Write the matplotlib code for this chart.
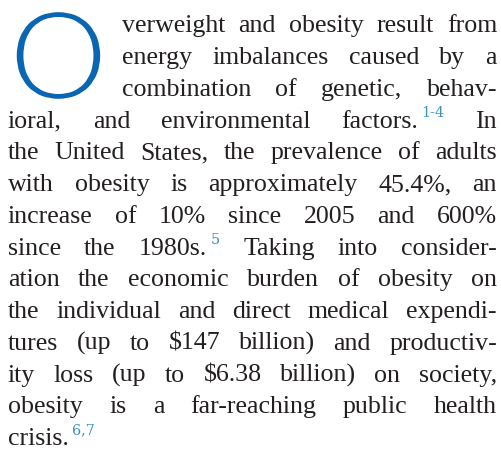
import matplotlib
matplotlib.use("Agg")
import matplotlib.pyplot as plt
import matplotlib.patheffects as pe

# ---- content ----
drop_cap = "O"
lines = [
    "verweight and obesity result from",
    "energy imbalances caused by a",
    "combination of genetic, behav-",
    "ioral, and environmental factors.^1-4 In",
    "the United States, the prevalence of adults",
    "with obesity is approximately 45.4%, an",
    "increase of 10% since 2005 and 600%",
    "since the 1980s.^5 Taking into consider-",
    "ation the economic burden of obesity on",
    "the individual and direct medical expendi-",
    "tures (up to $147 billion) and productiv-",
    "ity loss (up to $6.38 billion) on society,",
    "obesity is a far-reaching public health",
    "crisis.^6,7",
]
indented_lines = 3

# ---- style ----
W, H = 501, 449
TEXT_COLOR = "#231f20"
CAP_COLOR = "#0a66b2"
SUP_COLOR = "#3592c6"
FONT = "Liberation Serif"
SUP_FONT = "DejaVu Serif"
FS = 18.6
SUP_FS = 10.4
LEFT, RIGHT, INDENT_LEFT = 8, 497, 122
BASE0, LINE_H = 32.3, 31.75
SUP_RAISE = 10.5
SUP_GAP = 3.5

fig = plt.figure(figsize=(W / 100, H / 100), dpi=100)
ax = fig.add_axes([0, 0, 1, 1])
ax.set_xlim(0, W)
ax.set_ylim(H, 0)
ax.axis("off")
renderer = fig.canvas.get_renderer()


def width_of(s, fs, family=FONT):
    t = ax.text(0, 0, s, fontsize=fs, family=family, parse_math=False)
    w = t.get_window_extent(renderer).width
    t.remove()
    return w


def token_parts(tok):
    if "^" in tok:
        a, b = tok.split("^", 1)
        return a, b
    return tok, None


def token_width(tok):
    a, b = token_parts(tok)
    w = width_of(a, FS)
    if b:
        w += SUP_GAP + width_of(b, SUP_FS, SUP_FONT)
    return w


for i, line in enumerate(lines):
    y = BASE0 + i * LINE_H
    x0 = INDENT_LEFT if i < indented_lines else LEFT
    toks = line.split(" ")
    widths = [token_width(t) for t in toks]
    if i < len(lines) - 1 and len(toks) > 1:
        gap = (RIGHT - x0 - sum(widths)) / (len(toks) - 1)
    else:
        gap = width_of("a b", FS) - width_of("ab", FS)
    x = x0
    for tok, w in zip(toks, widths):
        a, b = token_parts(tok)
        ax.text(x, y, a, fontsize=FS, family=FONT, color=TEXT_COLOR,
                va="baseline", ha="left", parse_math=False)
        if b:
            xs = x + width_of(a, FS) + SUP_GAP
            ax.text(xs, y - SUP_RAISE, b, fontsize=SUP_FS, family=SUP_FONT,
                    color=SUP_COLOR, va="baseline", ha="left", parse_math=False)
        x += w + gap

# drop cap (regular Lato, outline slightly eroded to thin the stroke)
ax.text(58.5, 100.8, drop_cap, fontsize=91, family="Lato", fontweight="normal",
        color=CAP_COLOR, va="baseline", ha="center", parse_math=False,
        path_effects=[pe.Normal(), pe.Stroke(linewidth=4.2, foreground="white")])

fig.savefig("out.png", dpi=100, facecolor="white")
